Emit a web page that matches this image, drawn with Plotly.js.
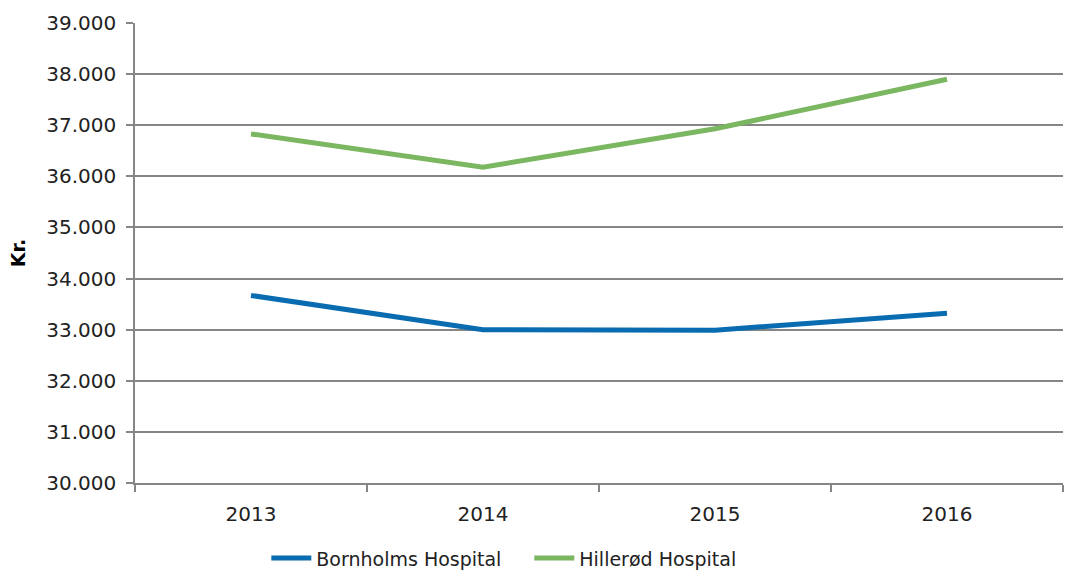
<!DOCTYPE html>
<html><head><meta charset="utf-8">
<script src="https://cdn.plot.ly/plotly-3.0.1.min.js"></script>
<style>html,body{margin:0;padding:0;background:#fff}#chart{width:1065px;height:572px}</style>
</head><body><div id="chart"></div>
<script>
var years = ['2013','2014','2015','2016'];
var bornholm = [33670, 33000, 32990, 33320];
var hilleroed = [36830, 36180, 36930, 37900];
var seriesNames = ['Bornholms Hospital','Hillerød Hospital'];
var yTicks = [30000,31000,32000,33000,34000,35000,36000,37000,38000,39000];
var yTickText = ['30.000','31.000','32.000','33.000','34.000','35.000','36.000','37.000','38.000','39.000'];

var traces = [
  {x: years, y: bornholm, name: seriesNames[0], type:'scatter', mode:'lines', line:{color:'#0a6cb0', width:5}},
  {x: years, y: hilleroed, name: seriesNames[1], type:'scatter', mode:'lines', line:{color:'#7bb661', width:5}}
];
var fam = '"DejaVu Sans", Verdana, sans-serif';
var tickFont = {family:fam, size:20, color:'#222'};
var legFont = {family:fam, size:19, color:'#222'};
var layout = {
  width:1065, height:572,
  margin:{l:135, r:2, t:23, b:89},
  paper_bgcolor:'#fff', plot_bgcolor:'#fff',
  font: tickFont,
  showlegend:true,
  legend:{orientation:'h', x:0.497, xref:'container', xanchor:'center', y:0.024, yref:'container', yanchor:'middle', font:legFont,
    itemwidth:40, entrywidth:208, entrywidthmode:'pixels'},
  xaxis:{type:'category', range:[-0.5,3.5], tickson:'boundaries', ticks:'outside', ticklen:7, tickcolor:'#868686', tickwidth:1.5,
    showgrid:false, showline:true, linecolor:'#868686', linewidth:1.5, zeroline:false, tickfont:tickFont, ticklabelstandoff:12},
  yaxis:{range:[30000,39000], tickvals:yTicks, ticktext:yTickText, ticks:'outside', ticklen:7, tickcolor:'#868686', tickwidth:1.5,
    showgrid:true, gridcolor:'#868686', gridwidth:1.5, showline:true, linecolor:'#868686', linewidth:1.5, zeroline:false,
    tickfont:tickFont, ticklabelstandoff:6,
    title:{text:'<b>Kr.</b>', font:{family:fam, size:19, color:'#000'}, standoff:16}}
};
Plotly.newPlot('chart', traces, layout, {displayModeBar:false, responsive:false});
</script></body></html>
